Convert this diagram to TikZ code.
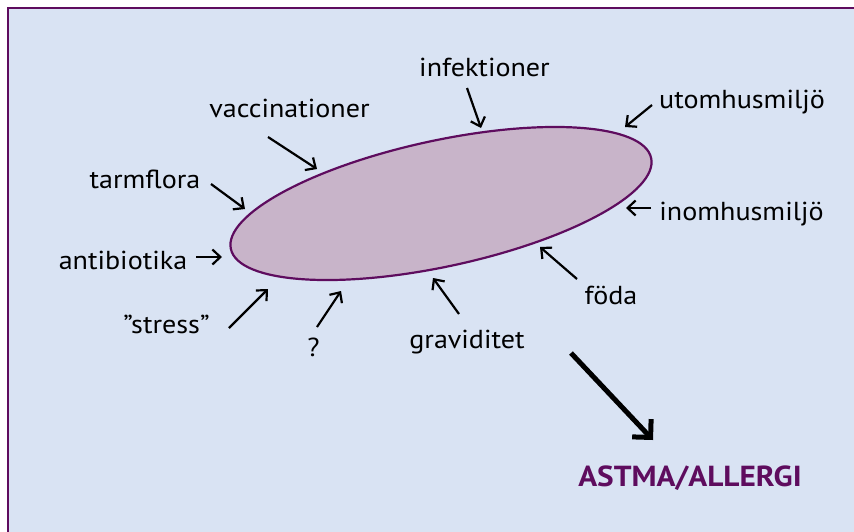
\documentclass[tikz,border=0pt]{standalone}
\usepackage{fontspec}
\setmainfont{PT Sans}[FakeStretch=1.08]
\usetikzlibrary{arrows.meta,shapes.geometric}
\definecolor{bgblue}{RGB}{217,227,243}
\definecolor{framec}{RGB}{94,12,94}
\definecolor{ellfill}{RGB}{200,180,201}
\begin{document}
\begin{tikzpicture}[x=1pt,y=-1pt,
  lbl/.style={font=\fontsize{26}{30}\selectfont, text=black, inner sep=0pt, anchor=base},
  arr/.style={line width=2.2pt, -{Straight Barb[length=8pt,width=15pt]}},
  bigarr/.style={line width=5pt, -{Straight Barb[length=13pt,width=26pt]}}]
\useasboundingbox (0,0) rectangle (854,531);
\clip (0,0) rectangle (854,531);
\fill[white] (0,0) rectangle (854,531);
\draw[fill=bgblue, draw=framec, line width=2.2pt] (8,8) rectangle (880,560);
\node[ellipse, draw=framec, fill=ellfill, line width=2.2pt, inner sep=0pt,
      minimum width=430pt, minimum height=126pt, rotate=12.2] (ell) at (441,203.5) {};
% labels
\node[lbl] (inf) at (484.5,76) {infektioner};
\node[lbl] (vac) at (289.5,117) {vaccinationer};
\node[lbl] (tarm) at (145,188) {tarmflora};
\node[lbl] (anti) at (123,269) {antibiotika};
\node[lbl] (stress) at (166.5,333) {”stress”};
\node[lbl] (q) at (313.5,356) {?};
\node[lbl] (grav) at (467,348) {graviditet};
\node[lbl] (foda) at (611,304) {föda};
\node[lbl] (inom) at (741.5,220) {inomhusmiljö};
\node[lbl] (utom) at (742,108) {utomhusmiljö};
\node[font=\fontsize{29}{34}\selectfont\bfseries, text=framec, inner sep=0pt, anchor=base] (astma) at (690,486) {ASTMA/ALLERGI};
% arrow coordinates
\coordinate (infS) at (467,88);   \coordinate (infE) at (481,128);
\coordinate (vacS) at (268,137);  \coordinate (vacE) at (317,169);
\coordinate (tarmS) at (211,184); \coordinate (tarmE) at (245,209);
\coordinate (antiS) at (196,257); \coordinate (antiE) at (222,257);
\coordinate (strS) at (229,328);  \coordinate (strE) at (268,289);
\coordinate (qS) at (317,327);    \coordinate (qE) at (341,291);
\coordinate (gravS) at (459,314); \coordinate (gravE) at (433,278);
\coordinate (fodaS) at (577,279); \coordinate (fodaE) at (540,247);
\coordinate (inomS) at (651,208); \coordinate (inomE) at (626,208);
\coordinate (utomS) at (652,105); \coordinate (utomE) at (625,127);
\coordinate (bigS) at (571,353);  \coordinate (bigE) at (653,440);
\draw[arr] (infS) -- (infE);
\draw[arr] (vacS) -- (vacE);
\draw[arr] (tarmS) -- (tarmE);
\draw[arr] (antiS) -- (antiE);
\draw[arr] (strS) -- (strE);
\draw[arr] (qS) -- (qE);
\draw[arr] (gravS) -- (gravE);
\draw[arr] (fodaS) -- (fodaE);
\draw[arr] (inomS) -- (inomE);
\draw[arr] (utomS) -- (utomE);
\draw[bigarr] (bigS) -- (bigE);
\end{tikzpicture}
\end{document}
